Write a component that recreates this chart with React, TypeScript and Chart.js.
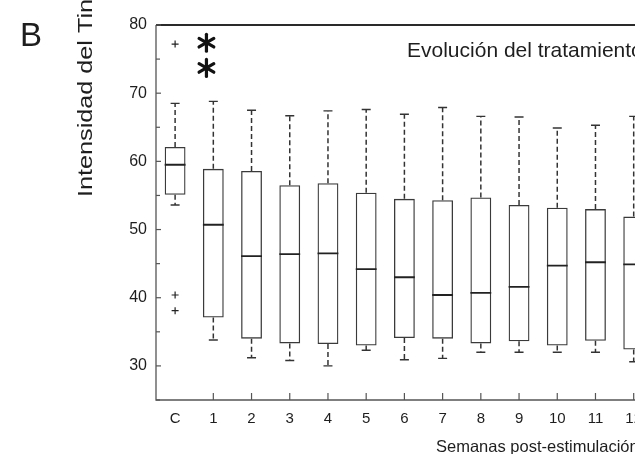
import React, { useEffect, useRef } from 'react';
import { Chart, registerables } from 'chart.js';

Chart.register(...registerables);

// ---- data ----
const categories = ['C', '1', '2', '3', '4', '5', '6', '7', '8', '9', '10', '11', '12'];
const whiskerHigh = [68.5, 68.8, 67.5, 66.7, 67.4, 67.6, 66.9, 67.9, 66.6, 66.5, 64.9, 65.3, 66.6];
const q3Values = [62.1, 58.9, 58.6, 56.5, 56.8, 55.4, 54.5, 54.3, 54.7, 53.6, 53.2, 53.0, 51.9];
const medianValues = [59.5, 50.7, 46.1, 46.4, 46.5, 44.2, 43.0, 40.4, 40.7, 41.6, 44.7, 45.2, 44.9];
const q1Values = [55.1, 37.1, 34.0, 33.3, 33.2, 33.0, 34.1, 34.0, 33.3, 33.6, 33.0, 33.7, 32.4];
const whiskerLow = [53.6, 33.8, 31.2, 30.8, 30.0, 32.3, 30.9, 31.1, 32.0, 32.0, 32.0, 32.0, 30.6];
const outlierCategory = ['C', 'C', 'C'];
const outlierValues = [77.2, 40.4, 38.1];
const significanceX = [0.82, 0.82];
const significanceY = [77.4, 73.7];
const yTickLabels = [30, 40, 50, 60, 70, 80];
const yMin = 25;
const yMax = 80;

const panelLetter = 'B';
const yTitle = 'Intensidad del Tinnitus';
const xTitle = 'Semanas post-estimulación';
const plotTitle = 'Evolución del tratamiento';

const FONT = "'Liberation Sans', Arial, Helvetica, sans-serif";
const INK = '#1e1e1e';
const LINE = '#333333';

const extrasPlugin = {
  id: 'boxExtras',
  beforeDatasetsDraw(chart: any) {
    const { ctx, chartArea } = chart;
    const y = chart.scales.y;
    const x = chart.scales.x;
    ctx.save();
    // frame
    ctx.strokeStyle = '#555';
    ctx.lineWidth = 1.3;
    ctx.beginPath();
    ctx.moveTo(chartArea.left, chartArea.top);
    ctx.lineTo(chartArea.left, chartArea.bottom);
    ctx.lineTo(chartArea.right, chartArea.bottom);
    ctx.stroke();
    ctx.strokeStyle = '#2a2a2a';
    ctx.lineWidth = 2;
    ctx.beginPath();
    ctx.moveTo(chartArea.left, chartArea.top);
    ctx.lineTo(chartArea.right, chartArea.top);
    ctx.stroke();
    // inward ticks on y axis
    ctx.strokeStyle = '#555';
    ctx.lineWidth = 1.2;
    for (let v = yMin; v <= yMax; v += 5) {
      const py = y.getPixelForValue(v);
      const len = v % 10 === 0 ? 5 : 4;
      ctx.beginPath();
      ctx.moveTo(chartArea.left, py);
      ctx.lineTo(chartArea.left + len, py);
      ctx.stroke();
    }
    // inward ticks on x axis (weeks only)
    for (let i = 1; i < categories.length; i++) {
      const px = x.getPixelForValue(i);
      ctx.beginPath();
      ctx.moveTo(px, chartArea.bottom);
      ctx.lineTo(px, chartArea.bottom - 7);
      ctx.stroke();
    }
    ctx.restore();
  },
  afterDatasetsDraw(chart: any) {
    const { ctx, chartArea } = chart;
    const x = chart.scales.x;
    const y = chart.scales.y;
    const meta = chart.getDatasetMeta(0);
    ctx.save();
    ctx.beginPath();
    ctx.rect(chartArea.left, chartArea.top - 2, chartArea.right - chartArea.left, chartArea.bottom - chartArea.top + 2);
    ctx.clip();
    const line = (x1: number, y1: number, x2: number, y2: number) => {
      ctx.beginPath();
      ctx.moveTo(x1, y1);
      ctx.lineTo(x2, y2);
      ctx.stroke();
    };
    categories.forEach((_, i) => {
      const cx = x.getPixelForValue(i);
      const half = meta.data[i] ? meta.data[i].width / 2 : 10;
      const yHi = y.getPixelForValue(whiskerHigh[i]);
      const yQ3 = y.getPixelForValue(q3Values[i]);
      const yMed = y.getPixelForValue(medianValues[i]);
      const yQ1 = y.getPixelForValue(q1Values[i]);
      const yLo = y.getPixelForValue(whiskerLow[i]);
      ctx.strokeStyle = LINE;
      ctx.lineWidth = 1.5;
      ctx.setLineDash([5, 3]);
      line(cx, yQ3, cx, yHi);
      line(cx, yQ1, cx, yLo);
      ctx.setLineDash([]);
      ctx.lineWidth = 1.4;
      line(cx - 4.5, yHi, cx + 4.5, yHi);
      line(cx - 4.5, yLo, cx + 4.5, yLo);
      ctx.strokeStyle = '#222';
      ctx.lineWidth = 1.8;
      line(cx - half, yMed, cx + half, yMed);
    });
    // significance asterisks
    ctx.strokeStyle = '#111';
    ctx.lineWidth = 3.2;
    ctx.lineCap = 'round';
    significanceX.forEach((sx, k) => {
      const px = x.getPixelForValue(sx);
      const py = y.getPixelForValue(significanceY[k]);
      const r = 8.5;
      [90, 30, 150].forEach((deg) => {
        const a = (deg * Math.PI) / 180;
        line(px - r * Math.cos(a), py - r * Math.sin(a), px + r * Math.cos(a), py + r * Math.sin(a));
      });
    });
    ctx.restore();
  },
  afterDraw(chart: any) {
    const { ctx, chartArea } = chart;
    ctx.save();
    ctx.fillStyle = INK;
    // panel letter
    ctx.font = `33px ${FONT}`;
    ctx.textAlign = 'left';
    ctx.textBaseline = 'alphabetic';
    ctx.fillText(panelLetter, 20, 46);
    // in-plot title
    ctx.font = `21px ${FONT}`;
    ctx.fillText(plotTitle, chartArea.left + 251, 57);
    // x title
    ctx.font = `16.5px ${FONT}`;
    ctx.fillText(xTitle, chartArea.left + 280, 452);
    // y title (rotated)
    ctx.translate(92, 197);
    ctx.rotate(-Math.PI / 2);
    ctx.scale(1.2, 1);
    ctx.font = `21px ${FONT}`;
    ctx.fillText(yTitle, 0, 0);
    ctx.restore();
  },
};

export default function App() {
  const canvasRef = useRef<HTMLCanvasElement | null>(null);

  useEffect(() => {
    const canvas = canvasRef.current;
    if (!canvas) return;
    const boxes = categories.map((_, i) => [q1Values[i], q3Values[i]]);
    const outliers = outlierValues.map((v, i) => ({ x: outlierCategory[i], y: v }));
    const chart = new Chart(canvas, {
      type: 'bar',
      data: {
        labels: categories,
        datasets: [
          {
            type: 'bar',
            data: boxes as any,
            backgroundColor: 'rgba(255,255,255,0)',
            borderColor: '#3a3a3a',
            borderWidth: 1.3,
            borderSkipped: false,
            barPercentage: 0.545,
            categoryPercentage: 1,
          } as any,
          {
            type: 'scatter',
            data: outliers as any,
            pointStyle: 'cross',
            pointRadius: 3.5,
            borderColor: '#222',
            borderWidth: 1.2,
            backgroundColor: '#222',
            showLine: false,
          } as any,
        ],
      },
      options: {
        animation: false,
        responsive: false,
        devicePixelRatio: 1,
        layout: { padding: { top: 25, left: 0, right: 0, bottom: 0 } },
        plugins: {
          legend: { display: false },
          tooltip: { enabled: false },
          title: { display: false },
        },
        scales: {
          x: {
            type: 'category',
            offset: true,
            grid: { display: false, drawTicks: false },
            border: { display: false },
            ticks: {
              color: INK,
              font: { family: FONT, size: 15 },
              padding: 10,
              maxRotation: 0,
              autoSkip: false,
            },
            afterFit: (scale: any) => {
              scale.height = 54;
            },
          },
          y: {
            type: 'linear',
            min: yMin,
            max: yMax,
            grid: { display: false, drawTicks: false },
            border: { display: false },
            ticks: {
              stepSize: 5,
              color: INK,
              font: { family: FONT, size: 16 },
              padding: 9,
              callback: (v: any) => (yTickLabels.includes(Number(v)) ? String(v) : ''),
            },
            afterFit: (scale: any) => {
              scale.width = 156;
            },
          },
        },
      },
      plugins: [extrasPlugin],
    });
    return () => chart.destroy();
  }, []);

  return (
    <div
      style={{
        position: 'fixed',
        left: 0,
        top: 0,
        width: 635,
        height: 454,
        overflow: 'hidden',
        background: '#ffffff',
      }}
    >
      <canvas ref={canvasRef} width={658} height={454} style={{ display: 'block' }} />
    </div>
  );
}
